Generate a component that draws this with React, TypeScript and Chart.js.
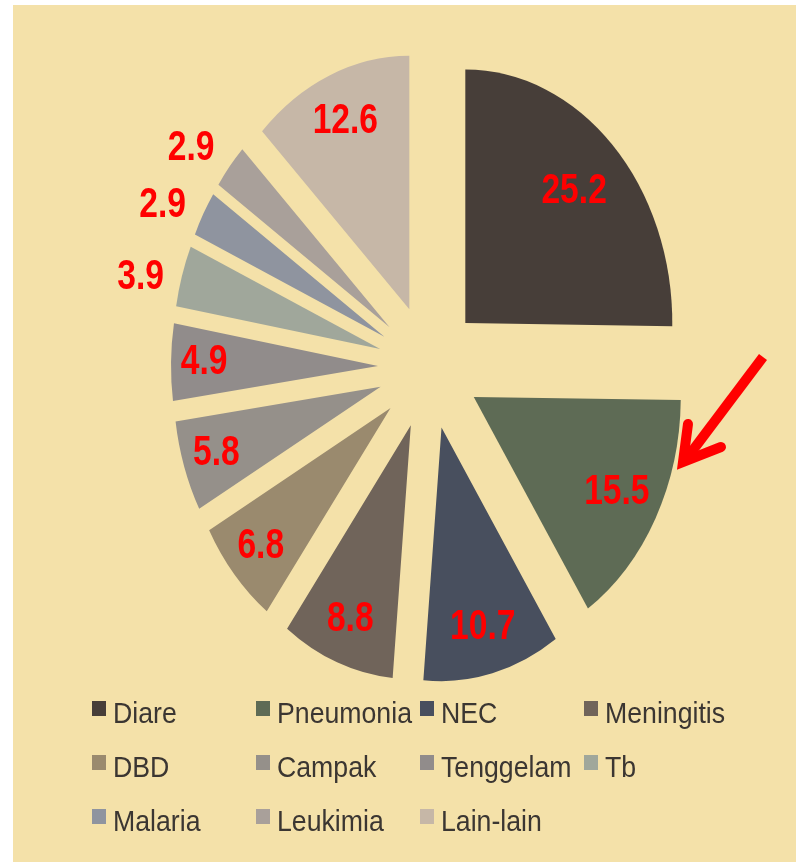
import React, { useEffect, useRef } from "react";
import { Chart, registerables } from "chart.js";

Chart.register(...registerables);

const categories = [
  "Diare",
  "Pneumonia",
  "NEC",
  "Meningitis",
  "DBD",
  "Campak",
  "Tenggelam",
  "Tb",
  "Malaria",
  "Leukimia",
  "Lain-lain",
];
const values = [25.2, 15.5, 10.7, 8.8, 6.8, 5.8, 4.9, 3.9, 2.9, 2.9, 12.6];
const colors = [
  "#473E39",
  "#5E6B55",
  "#484F5E",
  "#70645A",
  "#9A8A6E",
  "#95908A",
  "#918C8B",
  "#A0A79B",
  "#8F949F",
  "#A9A09A",
  "#C6B7A7",
];

const BG = "#F4E1A9";
const EXPLODE = 51;
const SY = 1.225;
const RADIUS = 207;
const OUTSIDE_LIMIT = 4;

function scaledText(
  ctx: CanvasRenderingContext2D,
  text: string,
  x: number,
  y: number,
  sx: number
) {
  ctx.save();
  ctx.translate(x, y);
  ctx.scale(sx, 1);
  ctx.fillText(text, 0, 0);
  ctx.restore();
}

const explodedPie = {
  id: "explodedPie",
  beforeDraw(chart: any) {
    const ctx = chart.ctx as CanvasRenderingContext2D;
    ctx.save();
    ctx.fillStyle = "#FFFFFF";
    ctx.fillRect(0, 0, chart.width, chart.height);
    ctx.fillStyle = BG;
    ctx.fillRect(13, 5, chart.width - 13, chart.height - 5);
    ctx.restore();
  },
  beforeDatasetsDraw(chart: any) {
    const ctx = chart.ctx as CanvasRenderingContext2D;
    const meta = chart.getDatasetMeta(0);
    meta.data.forEach((arc: any) => {
      const { x, y, startAngle, endAngle } = arc;
      const mid = (startAngle + endAngle) / 2;
      ctx.save();
      ctx.translate(x, y);
      ctx.scale(1, SY);
      ctx.translate(-x, -y);
      ctx.translate(Math.cos(mid) * EXPLODE, Math.sin(mid) * EXPLODE);
      arc.draw(ctx);
      ctx.restore();
    });
    return false;
  },
  afterDraw(chart: any) {
    const ctx = chart.ctx as CanvasRenderingContext2D;
    const meta = chart.getDatasetMeta(0);
    const vals = chart.data.datasets[0].data as number[];
    const total = vals.reduce((a, b) => a + b, 0);

    // value labels
    ctx.save();
    ctx.fillStyle = "#FF0000";
    ctx.font = "bold 42px 'Liberation Sans', Arial, sans-serif";
    ctx.textAlign = "center";
    ctx.textBaseline = "middle";
    meta.data.forEach((arc: any, i: number) => {
      const { x, y, startAngle, endAngle, outerRadius } = arc;
      const outside = vals[i] < OUTSIDE_LIMIT;
      let mid = (startAngle + endAngle) / 2;
      let k: number;
      if (outside) {
        k = 1.19;
        mid -= 0.045;
      } else {
        k = 0.865 - 0.5 * (vals[i] / total);
      }
      const d = EXPLODE + outerRadius * k;
      const lx = x + Math.cos(mid) * d;
      const ly = y + Math.sin(mid) * d * SY;
      scaledText(ctx, vals[i].toFixed(1), lx, ly, 0.8);
    });
    ctx.restore();

    // legend
    const labels = chart.data.labels as string[];
    const bgs = chart.data.datasets[0].backgroundColor as string[];
    ctx.save();
    ctx.font = "29px 'Liberation Sans', Arial, sans-serif";
    ctx.textAlign = "left";
    ctx.textBaseline = "alphabetic";
    labels.forEach((lab, i) => {
      const col = i % 4;
      const row = Math.floor(i / 4);
      const bx = 92 + col * 164;
      const base = 723 + row * 54;
      ctx.fillStyle = bgs[i];
      ctx.fillRect(bx, base - 22, 14, 15);
      ctx.fillStyle = "#3B3632";
      scaledText(ctx, lab, bx + 21, base, 0.92);
    });
    ctx.restore();

    // red arrow annotation
    ctx.save();
    ctx.strokeStyle = "#FF0000";
    ctx.lineWidth = 10;
    ctx.lineCap = "butt";
    ctx.beginPath();
    ctx.moveTo(763, 357);
    ctx.lineTo(684, 462);
    ctx.stroke();
    ctx.lineCap = "round";
    ctx.lineJoin = "miter";
    ctx.miterLimit = 10;
    ctx.beginPath();
    ctx.moveTo(688, 424);
    ctx.lineTo(683, 462);
    ctx.lineTo(721, 447);
    ctx.stroke();
    ctx.restore();
  },
};

export default function App() {
  const canvasRef = useRef<HTMLCanvasElement | null>(null);

  useEffect(() => {
    if (!canvasRef.current) return;
    const chart = new Chart(canvasRef.current, {
      type: "pie",
      data: {
        labels: categories,
        datasets: [
          {
            data: values,
            backgroundColor: colors,
            borderWidth: 0,
            radius: RADIUS,
          } as any,
        ],
      },
      options: {
        responsive: false,
        animation: false,
        radius: RADIUS,
        events: [],
        layout: { padding: { left: 62, right: 0, top: 0, bottom: 128 } },
        plugins: {
          legend: { display: false },
          tooltip: { enabled: false },
        },
      } as any,
      plugins: [explodedPie],
    });
    return () => chart.destroy();
  }, []);

  return (
    <div
      style={{
        position: "fixed",
        left: 0,
        top: 0,
        width: 796,
        height: 862,
      }}
    >
      <canvas
        ref={canvasRef}
        width={796}
        height={862}
        style={{ display: "block", width: 796, height: 862 }}
      />
    </div>
  );
}
